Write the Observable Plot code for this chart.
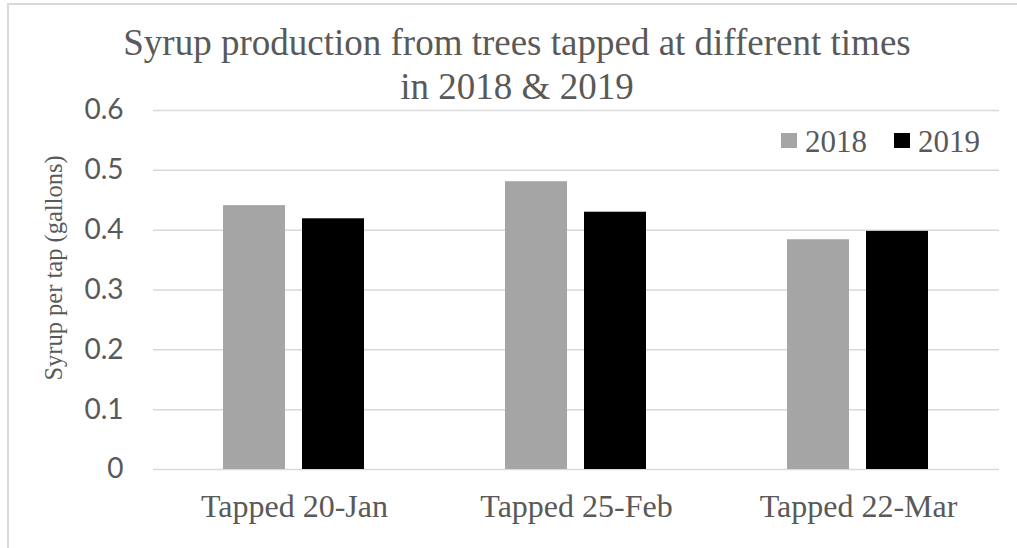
<!DOCTYPE html>
<html>
<head>
<meta charset="utf-8">
<script src="https://cdn.jsdelivr.net/npm/d3@7"></script>
<script src="https://cdn.jsdelivr.net/npm/@observablehq/plot@0.6"></script>
<style>
  html, body { margin: 0; padding: 0; background: #fff; }
  #chart { position: relative; width: 1017px; height: 548px; overflow: hidden; }
  #frame { position: absolute; left: 7px; top: 3px; right: -5px; bottom: -5px;
           border-left: 2px solid #d9d9d9; border-top: 2px solid #d9d9d9; pointer-events: none; }
  #chart svg { position: absolute; left: 0; top: 0; }
</style>
</head>
<body>
<div id="chart"><div id="frame"></div></div>
<script>
const categories = ["Tapped 20-Jan", "Tapped 25-Feb", "Tapped 22-Mar"];
const years = ["2018", "2019"];
const values2018 = [0.441, 0.481, 0.384];
const values2019 = [0.419, 0.430, 0.398];
const yTicks = [0, 0.1, 0.2, 0.3, 0.4, 0.5, 0.6];
const yTickLabels = ["0", "0.1", "0.2", "0.3", "0.4", "0.5", "0.6"];
const colors = ["#a5a5a5", "#000000"];
const titleLines = ["Syrup production from trees tapped at different times", "in 2018 & 2019"];
const yLabel = "Syrup per tap (gallons)";

const data = [];
categories.forEach((c, i) => {
  data.push({cat: c, year: years[0], value: values2018[i]});
  data.push({cat: c, year: years[1], value: values2019[i]});
});

const serif = "'Liberation Serif', 'Times New Roman', serif";
const sans = "Lato, 'Open Sans', sans-serif";
const textColor = "#595959";

const svg = Plot.plot({
  width: 1017,
  height: 548,
  marginLeft: 153,
  marginRight: 18,
  marginTop: 110,
  marginBottom: 79,
  style: {background: "transparent", color: textColor},
  fx: {domain: categories, padding: 0, label: null, axis: null},
  x: {domain: years, paddingInner: 0.2125, paddingOuter: 0.869, axis: null},
  y: {domain: [0, 0.6], axis: null},
  color: {domain: years, range: colors},
  marks: [
    Plot.gridY(yTicks, {stroke: "#d9d9d9", strokeOpacity: 1, strokeWidth: 1.5}),
    Plot.axisY(yTicks, {
      tickSize: 0, tickPadding: 30, fontSize: 28, fontFamily: sans, fill: textColor,
      label: null, tickFormat: d => yTickLabels[yTicks.indexOf(d)]
    }),
    Plot.axisFx({anchor: "bottom", tickSize: 0, tickPadding: 25, fontSize: 32, fontFamily: serif, fill: textColor, label: null}),
    Plot.barY(data, {fx: "cat", x: "year", y: "value", fill: "year"})
  ]
});

const s = d3.select(svg);
// Title
titleLines.forEach((t, i) => {
  s.append("text")
    .attr("x", 517).attr("y", i === 0 ? 55 : 99)
    .attr("text-anchor", "middle")
    .attr("font-family", serif).attr("font-size", 37)
    .attr("fill", textColor)
    .text(t);
});
// Y label
s.append("text")
  .attr("transform", "translate(62,268) rotate(-90)")
  .attr("text-anchor", "middle")
  .attr("font-family", serif).attr("font-size", 24.5)
  .attr("fill", textColor)
  .text(yLabel);
// Legend
const legX = [781, 894];
years.forEach((yr, i) => {
  s.append("rect").attr("x", legX[i]).attr("y", 133).attr("width", 16).attr("height", 15)
    .attr("fill", colors[i]);
  s.append("text").attr("x", legX[i] + 24).attr("y", 152)
    .attr("text-anchor", "start")
    .attr("font-family", serif).attr("font-size", 31).attr("fill", textColor)
    .text(yr);
});

document.getElementById("chart").appendChild(svg);
</script>
</body>
</html>
